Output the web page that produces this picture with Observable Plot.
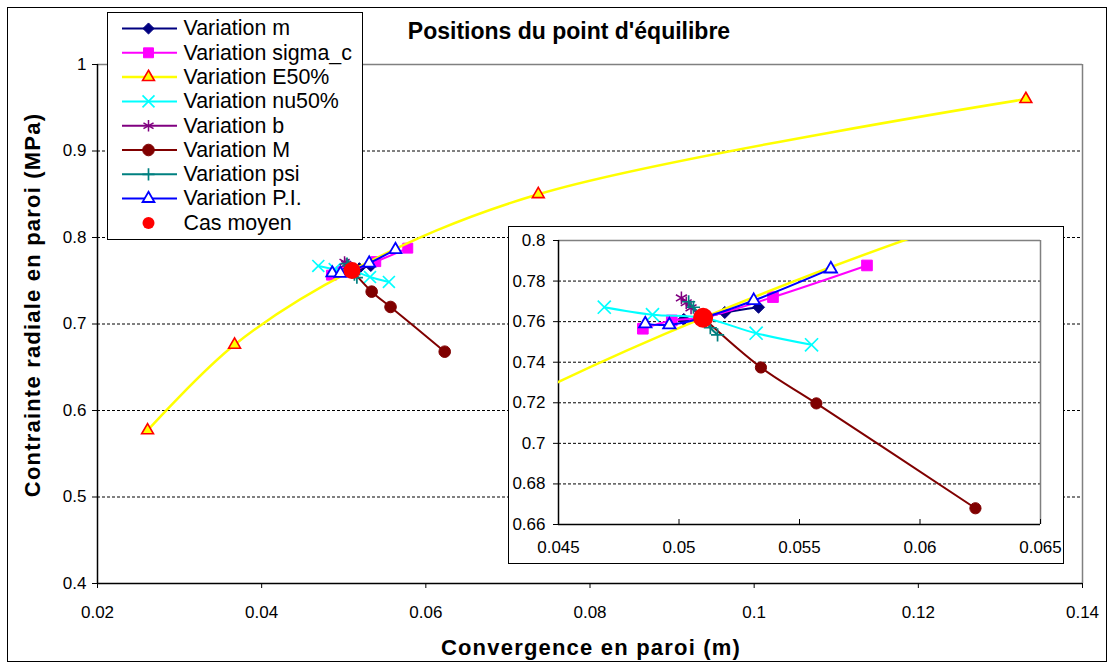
<!DOCTYPE html>
<html>
<head>
<meta charset="utf-8">
<script src="https://cdn.jsdelivr.net/npm/d3@7"></script>
<script src="https://cdn.jsdelivr.net/npm/@observablehq/plot@0.6"></script>
<style>
html,body{margin:0;padding:0;background:#fff;}
#chart{position:relative;width:1114px;height:668px;overflow:hidden;background:#fff;font-family:"Liberation Sans",Arial,sans-serif;color:#000;}
.abs{position:absolute;}
#border{left:7px;top:7px;width:1100px;height:655px;border:1px solid #000;box-sizing:border-box;pointer-events:none;}
#title{left:369px;top:16px;width:400px;text-align:center;font-weight:bold;font-size:23px;line-height:30px;white-space:nowrap;}
#xlabel{left:391px;top:634px;width:400px;text-align:center;font-weight:bold;font-size:22px;line-height:28px;white-space:nowrap;letter-spacing:1.2px;}
#ylabel{left:33px;top:305px;transform:translate(-50%,-50%) rotate(-90deg);font-weight:bold;font-size:22px;line-height:28px;white-space:nowrap;letter-spacing:1.2px;}
#legend{left:107px;top:12px;width:256px;height:228px;background:#fff;border:1px solid #000;box-sizing:border-box;}
#legend svg{position:absolute;left:0;top:0;}
#inset{left:508px;top:226px;width:555px;height:337px;background:#fff;}
#inset svg{position:absolute;left:0;top:0;}
#insetBorder{left:508px;top:226px;width:556px;height:338px;border:1px solid #000;box-sizing:border-box;pointer-events:none;}
#main{left:0;top:0;}
</style>
</head>
<body>
<div id="chart">
  <div id="main" class="abs"></div>
  <div id="inset" class="abs"></div>
  <div id="insetBorder" class="abs"></div>
  <div id="legend" class="abs"></div>
  <div id="title" class="abs">Positions du point d'équilibre</div>
  <div id="xlabel" class="abs">Convergence en paroi (m)</div>
  <div id="ylabel" class="abs">Contrainte radiale en paroi (MPa)</div>
  <div id="border" class="abs"></div>
</div>
<script>
// ---- Data ----
const seriesNames = ["Variation m","Variation sigma_c","Variation E50%","Variation nu50%","Variation b","Variation M","Variation psi","Variation P.I.","Cas moyen"];

const mX = [0.0502, 0.0510, 0.0519, 0.0533];
const mY = [0.7611, 0.7619, 0.7645, 0.7671];
const sigmaX = [0.0485, 0.0497, 0.0510, 0.0539, 0.0578];
const sigmaY = [0.7565, 0.7606, 0.7619, 0.7721, 0.7877];
const e50X = [0.0261, 0.0367, 0.0510, 0.0737, 0.1331];
const e50Y = [0.577, 0.676, 0.7619, 0.850, 0.960];
const nuX = [0.0469, 0.0489, 0.0510, 0.0532, 0.0555];
const nuY = [0.7671, 0.7634, 0.7619, 0.7543, 0.7486];
const bX = [0.0501, 0.0503, 0.0505, 0.0510];
const bY = [0.7717, 0.7693, 0.7668, 0.7619];
const bigMX = [0.0510, 0.0534, 0.0557, 0.0623];
const bigMY = [0.7619, 0.7374, 0.7197, 0.668];
const psiX = [0.0504, 0.0506, 0.0510, 0.0513, 0.0516];
const psiY = [0.7698, 0.7671, 0.7619, 0.7570, 0.7535];
const piX = [0.0486, 0.0496, 0.0510, 0.0531, 0.0563];
const piY = [0.7589, 0.7584, 0.7619, 0.7704, 0.7860];
const meanX = [0.0510];
const meanY = [0.7619];

const seriesX = [mX, sigmaX, e50X, nuX, bX, bigMX, psiX, piX, meanX];
const seriesY = [mY, sigmaY, e50Y, nuY, bY, bigMY, psiY, piY, meanY];

const mainXTicks = [0.02, 0.04, 0.06, 0.08, 0.1, 0.12, 0.14];
const mainYTicks = [0.4, 0.5, 0.6, 0.7, 0.8, 0.9, 1];
const mainGridY = [0.5, 0.6, 0.7, 0.8, 0.9];
const insetXTicks = [0.045, 0.05, 0.055, 0.06, 0.065];
const insetYTicks = [0.66, 0.68, 0.7, 0.72, 0.74, 0.76, 0.78, 0.8];
const insetGridY = [0.68, 0.7, 0.72, 0.74, 0.76, 0.78];

// ---- Styles ----
const styles = {
  "Variation m":       {line:"#000080", symbol:"diamond2", fill:"#000080", stroke:"#000080", r:5,   r2:5.4, sw:1},
  "Variation sigma_c": {line:"#FF00FF", symbol:"square",   fill:"#FF00FF", stroke:"#FF00FF", r:5.6, r2:6,   sw:1},
  "Variation E50%":    {line:"#FFFF00", symbol:"triangle", fill:"#FFFF00", stroke:"#FF0000", r:4.4, r2:4.6, sw:1.6, lw:2.5},
  "Variation nu50%":   {line:"#00FFFF", symbol:"times",    fill:"none",    stroke:"#00FFFF", r:5.5, r2:6,   sw:1.7},
  "Variation b":       {line:"#800080", symbol:"asterisk", fill:"none",    stroke:"#800080", r:5.5, r2:6,   sw:1.5},
  "Variation M":       {line:"#800000", symbol:"circle",   fill:"#800000", stroke:"#800000", r:5.8, r2:5.6, sw:1},
  "Variation psi":     {line:"#008080", symbol:"plus",     fill:"none",    stroke:"#008080", r:4,   r2:4.3, sw:1.7},
  "Variation P.I.":    {line:"#0000FF", symbol:"triangle", fill:"#FFFFFF", stroke:"#0000FF", r:4.4, r2:4.6, sw:1.8},
  "Cas moyen":         {line:null,      symbol:"circle",   fill:"#FF0000", stroke:"#FF0000", r:8.5, r2:10,  sw:0}
};
const fmt = d => String(d);
const fontStyle = {fontFamily:'"Liberation Sans", Arial, sans-serif', fontSize:"17px", color:"#000", background:"transparent"};

function seriesMarks(inset) {
  const marks = [];
  seriesNames.forEach((name, i) => {
    const st = styles[name];
    const rows = seriesX[i].map((x, j) => ({x, y: seriesY[i][j]}));
    if (st.line) marks.push(Plot.line(rows, {x:"x", y:"y", stroke:st.line, strokeWidth:st.lw || 2, curve:"catmull-rom", clip:inset}));
    marks.push(Plot.dot(rows, {x:"x", y:"y", symbol:st.symbol, r: inset ? st.r2 : st.r, fill:st.fill, stroke:st.stroke, strokeWidth:st.sw, clip:inset}));
  });
  return marks;
}

// ---- Main chart ----
const main = Plot.plot({
  width:1114, height:668,
  marginLeft:97, marginRight:32, marginTop:64, marginBottom:85,
  style: fontStyle,
  x:{domain:[0.02, 0.14], label:null},
  y:{domain:[0.4, 1], label:null},
  marks:[
    Plot.ruleY(mainGridY, {stroke:"#000", strokeDasharray:"3,2", strokeWidth:1}),
    Plot.ruleY([1], {stroke:"#808080", strokeWidth:1.5}),
    Plot.ruleX([0.14], {stroke:"#808080", strokeWidth:1.5}),
    Plot.ruleX([0.02], {stroke:"#000", strokeWidth:1.5}),
    Plot.ruleY([0.4], {stroke:"#000", strokeWidth:1.5}),
    Plot.axisX({ticks:mainXTicks, tickSize:5, tickPadding:17, tickFormat:fmt, label:null}),
    Plot.axisY({ticks:mainYTicks, tickSize:5, tickPadding:6, tickFormat:fmt, label:null}),
    ...seriesMarks(false)
  ]
});
document.getElementById("main").appendChild(main);

// ---- Inset (zoom) chart ----
const inset = Plot.plot({
  width:555, height:337,
  marginLeft:50, marginRight:23, marginTop:14, marginBottom:39,
  style: fontStyle,
  x:{domain:[0.045, 0.065], label:null},
  y:{domain:[0.66, 0.8], label:null},
  marks:[
    Plot.ruleY(insetGridY, {stroke:"#000", strokeDasharray:"3,2", strokeWidth:1}),
    Plot.ruleY([0.8], {stroke:"#808080", strokeWidth:1.5}),
    Plot.ruleX([0.065], {stroke:"#808080", strokeWidth:1.5}),
    Plot.ruleX([0.045], {stroke:"#000", strokeWidth:1.5}),
    Plot.ruleY([0.66], {stroke:"#000", strokeWidth:1.5}),
    Plot.ruleX(insetXTicks, {insetTop:279, stroke:"#000"}),
    Plot.axisX({ticks:insetXTicks, tickSize:0, tickPadding:16, tickFormat:fmt, label:null}),
    Plot.axisY({ticks:insetYTicks, tickSize:5, tickPadding:8, tickFormat:fmt, label:null}),
    ...seriesMarks(true)
  ]
});
document.getElementById("inset").appendChild(inset);

// ---- Legend ----
const legendMarks = [];
seriesNames.forEach((name, i) => {
  const st = styles[name];
  const yy = 15 + i * 24.3;
  if (st.line) legendMarks.push(Plot.ruleY([yy], {x1:14, x2:69, stroke:st.line, strokeWidth:st.lw || 2}));
  legendMarks.push(Plot.dot([yy], {x:40, y:d => d, symbol:st.symbol, r: name === "Cas moyen" ? 6 : st.r, fill:st.fill, stroke:st.stroke, strokeWidth:st.sw}));
  legendMarks.push(Plot.text([name], {x:75, y:() => yy, text:d => d, textAnchor:"start", fontSize:21.4, fill:"#000"}));
});
const legend = Plot.plot({
  width:254, height:226, margin:0,
  style: fontStyle,
  x:{domain:[0, 254], range:[0, 254], axis:null},
  y:{domain:[0, 226], range:[0, 226], axis:null},
  marks: legendMarks
});
document.getElementById("legend").appendChild(legend);
</script>
</body>
</html>
